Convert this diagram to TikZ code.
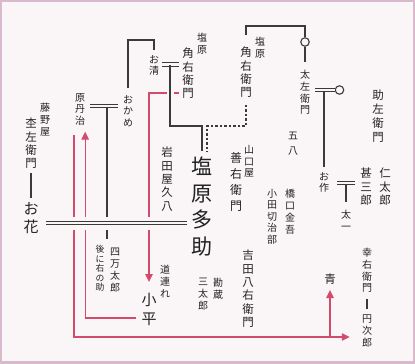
\documentclass[tikz,border=0pt]{standalone}
\usepackage{fontspec}
\setmainfont{Noto Sans CJK JP}
\usetikzlibrary{arrows.meta,positioning}
\definecolor{cPaper}{HTML}{FAF6F8}
\definecolor{cFrame}{HTML}{D9BACD}
\definecolor{cInk}{HTML}{222222}
\definecolor{cLine}{HTML}{3A3A3A}
\definecolor{cRed}{HTML}{D24A6C}
\tikzset{
  nm/.style={inner sep=0pt, align=center, text=cInk, font=\fontsize{11.5}{13.3}\selectfont},
  sm/.style={nm, font=\fontsize{10}{11.8}\selectfont},
  xs/.style={nm, font=\fontsize{8.8}{9.6}\selectfont},
  lg/.style={nm, font=\fontsize{15}{18.5}\selectfont},
  hg/.style={nm, font=\fontsize{21}{26.5}\selectfont},
  ring/.style={circle, draw=cLine, line width=1.1pt, fill=cPaper, minimum size=8.5pt, inner sep=0pt},
  ln/.style={cLine, line width=1.1pt},
  dln/.style={ln, dash pattern=on 2.5pt off 2pt},
  wed/.style={draw=cLine, line width=0.9pt, double=cPaper, double distance=2.3pt},
  wedgap/.style={cPaper, line width=13pt},
  rln/.style={cRed, line width=1.2pt},
  rarr/.style={rln, -{Triangle[length=8pt,width=7.5pt]}}
}
\begin{document}
\begin{tikzpicture}[x=1pt, y=-1pt]
\useasboundingbox (0,0) rectangle (415,364);
\fill[cFrame] (0,0) rectangle (415,364);
\fill[cPaper] (2,2) rectangle (413,361);
% ----- left side -----
\node[sm, anchor=north] (fuji) at (45,103) {藤\\野\\屋};
\node[nm, anchor=north] (moku) at (31,118) {杢\\左\\衛\\門};
\node[lg, anchor=north] (hana) at (31,202) {お\\花};
\node[sm, anchor=north] (tanji) at (80,93) {原\\丹\\治};
\node[sm, anchor=north] (okame) at (128,95) {お\\か\\め};
\node[sm, anchor=north] (shiman) at (115,248) {四\\万\\太\\郎};
\node[xs, anchor=north] (nochi) at (100,245) {後\\に\\右\\の\\助};
\draw[ln, shorten <=4pt, shorten >=4pt] (moku) -- (hana);
\draw[wed, shorten <=5pt, shorten >=5pt] (tanji.east |- 0,106) -- (okame.west |- 0,106);
\draw[ln, shorten >=9pt] (107,107) -- (107,0 |- shiman.north);
% ----- Shiobara Kakuemon (1) -----
\node[sm, anchor=north] (osei) at (154,55) {お\\清};
\node[nm, anchor=north] (kaku1) at (188,48) {角\\右\\衛\\門};
\node[sm, anchor=north] (shio1) at (202,33) {塩\\原};
\node[nm, anchor=north] (iwata) at (167,147) {岩\\田\\屋\\久\\八};
\node[hg, anchor=north] (tasuke) at (202,157) {塩\\原\\多\\助};
\draw[ln, shorten <=7pt, shorten >=5pt] (okame.north) -- (okame.north |- 0,40) -| (osei.north);
\draw[wed, shorten <=3pt, shorten >=3pt] (osei.east |- 0,64.5) -- (kaku1.west |- 0,64.5);
\draw[ln, shorten >=6pt] (170,65) |- (tasuke.north |- 0,126) -- (tasuke.north);
% ----- Shiobara Kakuemon (2) -----
\node[nm, anchor=north] (kaku2) at (246,47) {角\\右\\衛\\門};
\node[sm, anchor=north] (shio2) at (260,37) {塩\\原};
\node[ring] (c1) at (305,42) {};
\node[sm, anchor=north] (taza) at (305,70) {太\\左\\衛\\門};
\node[ring] (c2) at (339.5,90) {};
\draw[ln, shorten <=12pt] (kaku2.north) -- (kaku2.north |- 0,26) -| (c1.north);
\draw[ln, shorten >=8pt] (c1.south) -- (taza.north);
\draw[dln, shorten <=7pt, shorten >=5pt] (kaku2.south) |- (207,126) -- (207,0 |- tasuke.north);
\draw[wed, shorten <=5pt] (taza.east |- 0,90) -- (c2.west);
% ----- right side -----
\node[sm, anchor=north, font=\fontsize{10}{15}\selectfont] (goha) at (293,132) {五\\八};
\node[nm, anchor=north, font=\fontsize{11.5}{13.8}\selectfont] (suke) at (378,90) {助\\左\\衛\\門};
\node[sm, anchor=north] (osaku) at (324,172) {お\\作};
\node[nm, anchor=north] (jinza) at (366,168) {甚\\三\\郎};
\node[nm, anchor=north] (nita) at (385,168) {仁\\太\\郎};
\node[sm, anchor=north] (taichi) at (346,210) {太\\一};
\node[sm, anchor=north] (hashi) at (290,189) {橋\\口\\金\\吾};
\node[sm, anchor=north, font=\fontsize{10}{11.4}\selectfont] (odagi) at (272,189) {小\\田\\切\\治\\部};
\node[nm, anchor=north, font=\fontsize{12}{16}\selectfont] (zenn) at (236,152) {善\\右\\衛\\門};
\node[sm, anchor=north] (yama) at (249,145) {山\\口\\屋};
\draw[ln, shorten >=5pt] (324,92) -- (osaku.north);
\draw[wed, shorten <=8pt, shorten >=5pt] (osaku.east |- 0,183) -- (jinza.west |- 0,183);
\draw[ln, shorten >=8pt] (346,184.5) -- (taichi.north);
% ----- bottom -----
\node[sm, anchor=north] (michi) at (165,265) {道\\連\\れ};
\node[lg, anchor=north] (kohei) at (149,293) {小\\平};
\node[sm, anchor=north] (kanzo) at (218,278) {勘\\蔵};
\node[sm, anchor=north] (santa) at (203,278) {三\\太\\郎};
\node[nm, anchor=north] (yoshi) at (248,250) {吉\\田\\八\\右\\衛\\門};
\node[sm, anchor=north] (kou) at (367,248) {幸\\右\\衛\\門};
\node[sm, anchor=north] (enji) at (367,315) {円\\次\\郎};
\node[nm, anchor=north] (ao) at (330,274) {青};
\draw[ln, shorten <=6pt, shorten >=6pt] (kou) -- (enji);
% ----- red routes -----
\draw[rln] ([xshift=-3pt]kaku1.west |- 0,93) -- ++(-5pt,0);
\draw[rarr, shorten >=11pt] (167,93) -| (kohei.north);
\draw[rarr, shorten <=5pt, shorten >=6pt] (kohei.west |- 0,318) -| (tanji.south east);
\draw[rarr, shorten >=12pt] (74,135) -- (74,337) -- (enji.west |- 0,337);
\draw[rarr, shorten >=5pt] (ao.south |- 0,337) -- (ao.south);
% ----- O-hana = Tasuke -----
\draw[wedgap, shorten <=7pt, shorten >=4.5pt] (hana.east |- 0,223) -- (tasuke.west |- 0,223);
\draw[wed, shorten <=7pt, shorten >=4.5pt] (hana.east |- 0,223) -- (tasuke.west |- 0,223);
\end{tikzpicture}
\end{document}
